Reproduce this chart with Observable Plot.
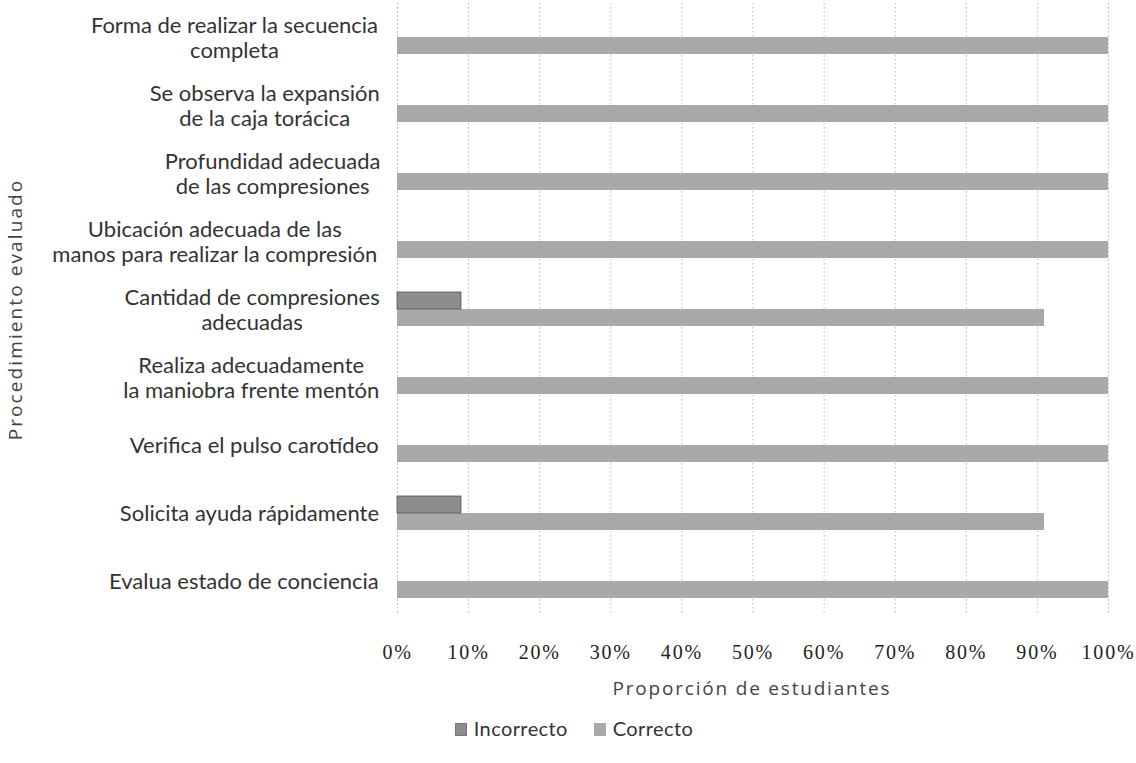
<!DOCTYPE html>
<html>
<head>
<meta charset="utf-8">
<script src="https://cdn.jsdelivr.net/npm/d3@7"></script>
<script src="https://cdn.jsdelivr.net/npm/@observablehq/plot@0.6"></script>
<style>
  body { margin: 0; background: #fff; position: relative; }
  #legend { display: flex; justify-content: center; gap: 26px; font-family: Lato, sans-serif; font-size: 20px; letter-spacing: 0.4px; color: #333; margin-top: 16px; padding-left: 12px; }
  #legend span.sw { display: inline-block; width: 10px; height: 11px; margin-right: 7px; vertical-align: 0px; }
  #xtitle { position: absolute; left: 452px; width: 600px; top: 675px; text-align: center; font-family: "Open Sans", sans-serif; font-size: 19px; letter-spacing: 1.8px; color: #444; }
</style>
</head>
<body>
<div id="chart"></div>
<div id="xtitle">Proporción de estudiantes</div>
<div id="legend"></div>
<script>
const categories = [
  "Forma de realizar la secuencia\ncompleta",
  "Se observa la expansión\nde la caja torácica",
  "Profundidad adecuada\nde las compresiones",
  "Ubicación adecuada de las\nmanos para realizar la compresión",
  "Cantidad de compresiones\nadecuadas",
  "Realiza adecuadamente\nla maniobra frente mentón",
  "Verifica el pulso carotídeo",
  "Solicita ayuda rápidamente",
  "Evalua estado de conciencia"
];
const series = ["Incorrecto", "Correcto"];
const incorrecto = [0, 0, 0, 0, 9, 0, 0, 9, 0];
const correcto = [100, 100, 100, 100, 91, 100, 100, 91, 100];
const xTicks = [0, 10, 20, 30, 40, 50, 60, 70, 80, 90, 100];
const seriesColors = ["#8d8d8d", "#a9a9a9"];

const rows = categories.flatMap((c, i) => [
  {cat: c, serie: series[0], v: incorrecto[i]},
  {cat: c, serie: series[1], v: correcto[i]}
]);

const LS = 0.5, FS = 22;
// measure label line widths with the same SVG text engine
const msvg = d3.select("body").append("svg").attr("width", 10).attr("height", 10).style("position", "absolute").style("visibility", "hidden");
const mtext = msvg.append("text").attr("font-family", "Lato").attr("font-size", FS).style("letter-spacing", LS + "px");
const maxW = c => Math.max(...c.split("\n").map(l => { mtext.text(l); return mtext.node().getComputedTextLength(); }));
const widths = categories.map(maxW);
msvg.remove();

const labelMarks = categories.map((c, i) => Plot.text([c], {
  fy: d => d, text: d => d, frameAnchor: "left", textAnchor: "middle",
  dx: -(12 + widths[i] / 2), lineHeight: 1.13, fontSize: FS, fontFamily: "Lato", fill: "#333",
  style: {letterSpacing: LS + "px"}
}));

const chart = Plot.plot({
  width: 1136,
  height: 700,
  marginTop: 2,
  marginBottom: 85,
  marginLeft: 397,
  marginRight: 28,
  x: {domain: [0, 100]},
  y: {domain: series, paddingInner: 0, paddingOuter: 0.89, axis: null},
  fy: {domain: categories, padding: 0},
  color: {domain: series, range: seriesColors},
  marks: [
    Plot.ruleX(xTicks, {stroke: "#b5b5b5", strokeDasharray: "1.5,2.5", strokeWidth: 1}),
    Plot.barX(rows.filter(d => d.serie === "Correcto" && d.v > 0), {fy: "cat", y: "serie", x: "v", fill: "serie"}),
    Plot.barX(rows.filter(d => d.serie === "Incorrecto" && d.v > 0), {fy: "cat", y: "serie", x: "v", fill: "serie", stroke: "#555", strokeWidth: 0.8}),
    Plot.axisX(xTicks, {anchor: "bottom", tickSize: 0, tickPadding: 29, tickFormat: d => d + "%", fontSize: 20, fontFamily: "Liberation Serif", fill: "#222", label: null}),
    Plot.axisFy({anchor: "left", tickSize: 0, tickFormat: () => "", label: "Procedimiento evaluado", labelAnchor: "center", labelOffset: 389,
      fontFamily: "Open Sans", fontSize: 19, fill: "#444"}),
    ...labelMarks
  ],
  style: {fontFamily: "Open Sans", fontSize: "19px", color: "#444"}
});
document.getElementById("chart").appendChild(chart);
d3.select(chart).selectAll("[aria-label='fy-axis label'] text, g[aria-label='fy-axis label']").style("letter-spacing", "2.1px");
d3.select(chart).selectAll("[aria-label='x-axis tick label']").style("letter-spacing", "1.8px");

const legend = document.getElementById("legend");
series.forEach((s, i) => {
  const item = document.createElement("div");
  item.innerHTML = `<span class="sw" style="background:${seriesColors[i]};border:1px solid ${i === 0 ? '#777' : '#aaa'}"></span>${s}`;
  legend.appendChild(item);
});
</script>
</body>
</html>
